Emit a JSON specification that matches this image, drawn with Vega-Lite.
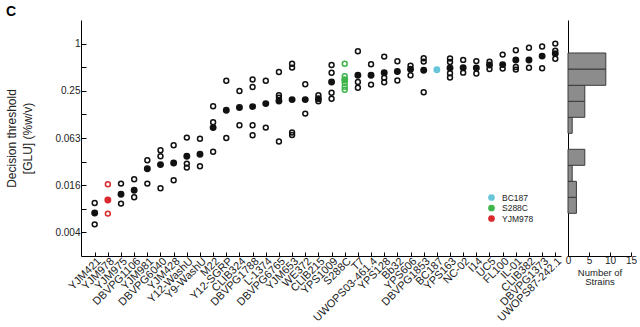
{
  "$schema": "https://vega.github.io/schema/vega-lite/v6.json",
  "title": {"text": "C", "anchor": "start", "fontSize": 14, "fontWeight": "bold", "font": "Liberation Sans", "offset": 1, "color": "#000"},
  "datasets": {
    "means": [
      {"strain": "YJM421", "value": 0.00691, "group": "other"},
      {"strain": "YJM978", "value": 0.01012, "group": "YJM978"},
      {"strain": "YJM975", "value": 0.01196, "group": "other"},
      {"strain": "DBVPG1106", "value": 0.01345, "group": "other"},
      {"strain": "YJM981", "value": 0.0253, "group": "other"},
      {"strain": "DBVPG6040", "value": 0.02861, "group": "other"},
      {"strain": "YJM428", "value": 0.03, "group": "other"},
      {"strain": "Y12-WashU", "value": 0.03651, "group": "other"},
      {"strain": "Y9-WashU", "value": 0.03873, "group": "other"},
      {"strain": "M22", "value": 0.08485, "group": "other"},
      {"strain": "Y12-SGRP", "value": 0.141, "group": "other"},
      {"strain": "CLIB324", "value": 0.153, "group": "other"},
      {"strain": "DBVPG1788", "value": 0.1572, "group": "other"},
      {"strain": "L-1374", "value": 0.1717, "group": "other"},
      {"strain": "DBVPG6765", "value": 0.1848, "group": "other"},
      {"strain": "YJM653", "value": 0.193, "group": "other"},
      {"strain": "WE372", "value": 0.193, "group": "other"},
      {"strain": "CLIB215", "value": 0.1977, "group": "other"},
      {"strain": "YPS1009", "value": 0.3229, "group": "other"},
      {"strain": "S288C", "value": 0.3453, "group": "S288C"},
      {"strain": "T7", "value": 0.394, "group": "other"},
      {"strain": "UWOPS03-461.4", "value": 0.394, "group": "other"},
      {"strain": "YPS128", "value": 0.4243, "group": "other"},
      {"strain": "Bb32", "value": 0.4397, "group": "other"},
      {"strain": "YPS606", "value": 0.47, "group": "other"},
      {"strain": "DBVPG1853", "value": 0.4566, "group": "other"},
      {"strain": "BC187", "value": 0.4634, "group": "BC187"},
      {"strain": "YPS163", "value": 0.4884, "group": "other"},
      {"strain": "NC-02", "value": 0.4913, "group": "other"},
      {"strain": "I14", "value": 0.4884, "group": "other"},
      {"strain": "UC5", "value": 0.5332, "group": "other"},
      {"strain": "FL100", "value": 0.5396, "group": "other"},
      {"strain": "IL-01", "value": 0.6178, "group": "other"},
      {"strain": "CLIB382", "value": 0.6178, "group": "other"},
      {"strain": "DBVPG1373", "value": 0.6925, "group": "other"},
      {"strain": "UWOPS87-242.1", "value": 0.7454, "group": "other"}
    ],
    "reps": [
      {"strain": "YJM421", "value": 0.00927, "group": "other"},
      {"strain": "YJM421", "value": 0.00495, "group": "other"},
      {"strain": "YJM978", "value": 0.01605, "group": "YJM978"},
      {"strain": "YJM978", "value": 0.00679, "group": "YJM978"},
      {"strain": "YJM975", "value": 0.01637, "group": "other"},
      {"strain": "YJM975", "value": 0.0091, "group": "other"},
      {"strain": "DBVPG1106", "value": 0.01858, "group": "other"},
      {"strain": "DBVPG1106", "value": 0.01095, "group": "other"},
      {"strain": "YJM981", "value": 0.03247, "group": "other"},
      {"strain": "YJM981", "value": 0.01637, "group": "other"},
      {"strain": "DBVPG6040", "value": 0.04356, "group": "other"},
      {"strain": "DBVPG6040", "value": 0.03651, "group": "other"},
      {"strain": "DBVPG6040", "value": 0.01427, "group": "other"},
      {"strain": "YJM428", "value": 0.05045, "group": "other"},
      {"strain": "YJM428", "value": 0.01805, "group": "other"},
      {"strain": "Y12-WashU", "value": 0.06324, "group": "other"},
      {"strain": "Y12-WashU", "value": 0.02947, "group": "other"},
      {"strain": "Y12-WashU", "value": 0.0262, "group": "other"},
      {"strain": "Y9-WashU", "value": 0.06105, "group": "other"},
      {"strain": "Y9-WashU", "value": 0.02722, "group": "other"},
      {"strain": "M22", "value": 0.1585, "group": "other"},
      {"strain": "M22", "value": 0.0993, "group": "other"},
      {"strain": "M22", "value": 0.04166, "group": "other"},
      {"strain": "Y12-SGRP", "value": 0.3355, "group": "other"},
      {"strain": "Y12-SGRP", "value": 0.0625, "group": "other"},
      {"strain": "CLIB324", "value": 0.2486, "group": "other"},
      {"strain": "CLIB324", "value": 0.09075, "group": "other"},
      {"strain": "DBVPG1788", "value": 0.3485, "group": "other"},
      {"strain": "DBVPG1788", "value": 0.2795, "group": "other"},
      {"strain": "DBVPG1788", "value": 0.09075, "group": "other"},
      {"strain": "DBVPG1788", "value": 0.06763, "group": "other"},
      {"strain": "L-1374", "value": 0.3355, "group": "other"},
      {"strain": "L-1374", "value": 0.08485, "group": "other"},
      {"strain": "DBVPG6765", "value": 0.4345, "group": "other"},
      {"strain": "DBVPG6765", "value": 0.219, "group": "other"},
      {"strain": "DBVPG6765", "value": 0.2048, "group": "other"},
      {"strain": "DBVPG6765", "value": 0.05637, "group": "other"},
      {"strain": "YJM653", "value": 0.5525, "group": "other"},
      {"strain": "YJM653", "value": 0.4941, "group": "other"},
      {"strain": "YJM653", "value": 0.07344, "group": "other"},
      {"strain": "YJM653", "value": 0.06825, "group": "other"},
      {"strain": "WE372", "value": 0.3026, "group": "other"},
      {"strain": "WE372", "value": 0.128, "group": "other"},
      {"strain": "CLIB215", "value": 0.219, "group": "other"},
      {"strain": "CLIB215", "value": 0.1836, "group": "other"},
      {"strain": "YPS1009", "value": 0.5332, "group": "other"},
      {"strain": "YPS1009", "value": 0.4243, "group": "other"},
      {"strain": "YPS1009", "value": 0.2357, "group": "other"},
      {"strain": "YPS1009", "value": 0.1977, "group": "other"},
      {"strain": "S288C", "value": 0.5525, "group": "S288C"},
      {"strain": "S288C", "value": 0.3827, "group": "S288C"},
      {"strain": "S288C", "value": 0.3162, "group": "S288C"},
      {"strain": "S288C", "value": 0.281, "group": "S288C"},
      {"strain": "S288C", "value": 0.2574, "group": "S288C"},
      {"strain": "T7", "value": 0.7978, "group": "other"},
      {"strain": "T7", "value": 0.3238, "group": "other"},
      {"strain": "T7", "value": 0.273, "group": "other"},
      {"strain": "UWOPS03-461.4", "value": 0.5444, "group": "other"},
      {"strain": "UWOPS03-461.4", "value": 0.2999, "group": "other"},
      {"strain": "YPS128", "value": 0.6824, "group": "other"},
      {"strain": "YPS128", "value": 0.3663, "group": "other"},
      {"strain": "YPS128", "value": 0.3209, "group": "other"},
      {"strain": "Bb32", "value": 0.5946, "group": "other"},
      {"strain": "Bb32", "value": 0.3382, "group": "other"},
      {"strain": "YPS606", "value": 0.524, "group": "other"},
      {"strain": "YPS606", "value": 0.394, "group": "other"},
      {"strain": "DBVPG1853", "value": 0.6495, "group": "other"},
      {"strain": "DBVPG1853", "value": 0.5892, "group": "other"},
      {"strain": "DBVPG1853", "value": 0.2392, "group": "other"},
      {"strain": "YPS163", "value": 0.6459, "group": "other"},
      {"strain": "YPS163", "value": 0.5823, "group": "other"},
      {"strain": "YPS163", "value": 0.4181, "group": "other"},
      {"strain": "YPS163", "value": 0.3697, "group": "other"},
      {"strain": "NC-02", "value": 0.6193, "group": "other"},
      {"strain": "NC-02", "value": 0.4262, "group": "other"},
      {"strain": "I14", "value": 0.598, "group": "other"},
      {"strain": "I14", "value": 0.4148, "group": "other"},
      {"strain": "UC5", "value": 0.5892, "group": "other"},
      {"strain": "UC5", "value": 0.4727, "group": "other"},
      {"strain": "FL100", "value": 0.724, "group": "other"},
      {"strain": "FL100", "value": 0.48, "group": "other"},
      {"strain": "IL-01", "value": 0.8215, "group": "other"},
      {"strain": "IL-01", "value": 0.5028, "group": "other"},
      {"strain": "IL-01", "value": 0.466, "group": "other"},
      {"strain": "CLIB382", "value": 0.8839, "group": "other"},
      {"strain": "CLIB382", "value": 0.4913, "group": "other"},
      {"strain": "DBVPG1373", "value": 0.9183, "group": "other"},
      {"strain": "DBVPG1373", "value": 0.4841, "group": "other"},
      {"strain": "UWOPS87-242.1", "value": 1.0, "group": "other"},
      {"strain": "UWOPS87-242.1", "value": 0.814, "group": "other"},
      {"strain": "UWOPS87-242.1", "value": 0.64, "group": "other"}
    ],
    "hist": [
      {"lo": 0.006844, "hi": 0.01095, "count": 2},
      {"lo": 0.01095, "hi": 0.01752, "count": 2},
      {"lo": 0.01752, "hi": 0.02803, "count": 1},
      {"lo": 0.02803, "hi": 0.04484, "count": 4},
      {"lo": 0.07175, "hi": 0.1148, "count": 1},
      {"lo": 0.1148, "hi": 0.1836, "count": 4},
      {"lo": 0.1836, "hi": 0.2938, "count": 4},
      {"lo": 0.2938, "hi": 0.474, "count": 9},
      {"lo": 0.474, "hi": 0.7588, "count": 9}
    ]
  },
  "spacing": 7,
  "bounds": "flush",
  "hconcat": [
    {
      "width": 480,
      "height": 236,
      "layer": [
        {
          "data": {"name": "reps"},
          "mark": {"type": "point", "filled": false, "size": 24, "strokeWidth": 1.5, "opacity": 1},
          "encoding": {
            "x": {
              "field": "strain", "type": "nominal",
              "scale": {"type": "point", "padding": 0.737, "align": 0.706,
                "domain": ["YJM421", "YJM978", "YJM975", "DBVPG1106", "YJM981", "DBVPG6040", "YJM428", "Y12-WashU", "Y9-WashU", "M22", "Y12-SGRP", "CLIB324", "DBVPG1788", "L-1374", "DBVPG6765", "YJM653", "WE372", "CLIB215", "YPS1009", "S288C", "T7", "UWOPS03-461.4", "YPS128", "Bb32", "YPS606", "DBVPG1853", "BC187", "YPS163", "NC-02", "I14", "UC5", "FL100", "IL-01", "CLIB382", "DBVPG1373", "UWOPS87-242.1"]},
              "axis": {"title": null, "labelAngle": -45, "labelFontSize": 11, "tickSize": -4, "labelPadding": 3, "labelOverlap": false}
            },
            "y": {
              "field": "value", "type": "quantitative",
              "scale": {"type": "log", "base": 2, "domain": [0.001953125, 2], "nice": false},
              "axis": {
                "values": [0.00390625, 0.0078125, 0.015625, 0.03125, 0.0625, 0.125, 0.25, 0.5, 1],
                "labelExpr": "datum.value == 1 ? '1' : datum.value == 0.25 ? '0.25' : datum.value == 0.0625 ? '0.063' : datum.value == 0.015625 ? '0.016' : datum.value == 0.00390625 ? '0.004' : ''",
                "tickSize": -5, "labelPadding": 6, "labelFontSize": 10,
                "title": ["Decision threshold", "[GLU] (%w/v)"],
                "titleFontSize": 12, "titleLineHeight": 16, "titlePadding": 20
              }
            },
            "stroke": {
              "field": "group", "type": "nominal",
              "scale": {"domain": ["other", "BC187", "S288C", "YJM978"], "range": ["#111111", "#67c5da", "#3db54a", "#d92a2e"]},
              "legend": null
            }
          }
        },
        {
          "data": {"name": "means"},
          "mark": {"type": "point", "filled": true, "size": 48, "opacity": 1},
          "encoding": {
            "x": {"field": "strain", "type": "nominal"},
            "y": {"field": "value", "type": "quantitative"},
            "color": {
              "field": "group", "type": "nominal",
              "scale": {"domain": ["BC187", "S288C", "YJM978", "other"], "range": ["#67c5da", "#3db54a", "#d92a2e", "#111111"]},
              "legend": {"orient": "none", "legendX": 406, "legendY": 173, "title": null, "values": ["BC187", "S288C", "YJM978"], "symbolType": "circle", "symbolSize": 45, "labelFontSize": 8.5, "rowPadding": 1.5, "labelOffset": 6, "padding": 0, "labelColor": "#222"}
            }
          }
        }
      ]
    },
    {
      "width": 63,
      "height": 236,
      "data": {"name": "hist"},
      "mark": {"type": "rect", "fill": "#8c8c8c", "stroke": "#3a3a3a", "strokeWidth": 1},
      "encoding": {
        "x": {
          "field": "count", "type": "quantitative",
          "scale": {"domain": [0, 15], "nice": false},
          "axis": {"values": [0, 5, 10, 15], "tickSize": -4, "labelFontSize": 10, "labelPadding": 3, "labelFlush": false, "title": ["Number of", "Strains"], "titleFontSize": 9.5, "titleLineHeight": 9.5, "titlePadding": 2}
        },
        "x2": {"datum": 0},
        "y": {
          "field": "lo", "type": "quantitative",
          "scale": {"type": "log", "base": 2, "domain": [0.001953125, 2], "nice": false},
          "axis": {"labels": false, "ticks": false, "title": null, "minExtent": 0, "maxExtent": 0}
        },
        "y2": {"field": "hi"}
      }
    }
  ],
  "config": {
    "view": {"stroke": null},
    "font": "Liberation Sans",
    "axis": {"grid": false, "domainColor": "#000", "tickColor": "#000", "labelColor": "#222", "titleColor": "#222", "titleFontWeight": "normal", "domainWidth": 1, "tickWidth": 1}
  }
}
